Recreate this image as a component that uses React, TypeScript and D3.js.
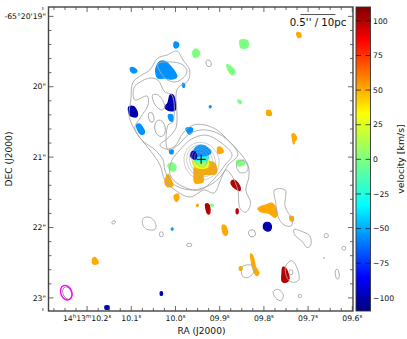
import React, { useEffect, useRef } from 'react';
import * as d3 from 'd3';

type Pt = [number, number];
type Blob = { v: number; pts: Pt[] };

// right ascension in seconds past 14h13m, declination in arcsec past -65d20'
const raTicks = [10.2, 10.1, 10.0, 9.9, 9.8, 9.7, 9.6];
const raLabels = ['14h13m10.2s', '10.1s', '10.0s', '09.9s', '09.8s', '09.7s', '09.6s'];
const decTicks = [19, 20, 21, 22, 23];
const decLabels = ["-65°20'19\"", '20"', '21"', '22"', '23"'];
const velTicks = [100, 75, 50, 25, 0, -25, -50, -75, -100];

const BLUE = -55, DARK = -100, GREEN = 0, ORANGE = 51, RED = 100;

const blobs: Blob[] = [
  { v: BLUE, pts: [[10.035, 19.642], [10.021, 19.649], [10.01, 19.72], [10.001, 19.791], [9.997, 19.862], [10.008, 19.89], [10.024, 19.876], [10.04, 19.876], [10.044, 19.819], [10.044, 19.734]] },
  { v: BLUE, pts: [[10.002, 19.365], [9.994, 19.379], [9.993, 19.421], [9.999, 19.45], [10.003, 19.436]] },
  { v: BLUE, pts: [[10.102, 19.734], [10.096, 19.727], [10.087, 19.777], [10.094, 19.805], [10.101, 19.777]] },
  { v: BLUE, pts: [[9.984, 19.954], [9.98, 19.954], [9.98, 20.004], [9.983, 20.004]] },
  { v: BLUE, pts: [[9.923, 20.274], [9.92, 20.274], [9.92, 20.295], [9.923, 20.295]] },
  { v: DARK, pts: [[10.012, 20.117], [10.006, 20.117], [10.0, 20.231], [10.001, 20.331], [10.017, 20.331], [10.024, 20.288], [10.017, 20.231]] },
  { v: DARK, pts: [[10.105, 20.284], [10.094, 20.284], [10.086, 20.377], [10.088, 20.426], [10.101, 20.416], [10.105, 20.377]] },
  { v: BLUE, pts: [[10.016, 20.402], [10.007, 20.402], [10.006, 20.483], [10.012, 20.483]] },
  { v: BLUE, pts: [[10.088, 20.544], [10.082, 20.529], [10.07, 20.639], [10.074, 20.676], [10.082, 20.653]] },
  { v: BLUE, pts: [[9.976, 20.59], [9.962, 20.59], [9.963, 20.647], [9.969, 20.676], [9.973, 20.647]] },
  { v: BLUE, pts: [[10.013, 20.899], [10.006, 20.899], [10.006, 20.949], [10.012, 20.949]] },
  { v: GREEN, pts: [[9.954, 19.464], [9.946, 19.507], [9.947, 19.556], [9.955, 19.585], [9.961, 19.542], [9.96, 19.492]] },
  { v: GREEN, pts: [[9.854, 19.343], [9.838, 19.343], [9.835, 19.393], [9.838, 19.446], [9.852, 19.446], [9.854, 19.407]] },
  { v: GREEN, pts: [[9.884, 19.691], [9.877, 19.701], [9.865, 19.786], [9.869, 19.829], [9.877, 19.801]] },
  { v: GREEN, pts: [[9.859, 20.188], [9.852, 20.203], [9.851, 20.231], [9.856, 20.231]] },
  { v: ORANGE, pts: [[9.726, 19.237], [9.718, 19.237], [9.716, 19.286], [9.722, 19.301]] },
  { v: ORANGE, pts: [[9.793, 20.338], [9.786, 20.338], [9.783, 20.402], [9.793, 20.402]] },
  { v: ORANGE, pts: [[9.736, 20.671], [9.73, 20.678], [9.726, 20.742], [9.73, 20.771], [9.732, 20.814], [9.735, 20.757]] },
  { v: ORANGE, pts: [[9.904, 20.863], [9.897, 20.863], [9.892, 20.927], [9.902, 20.949], [9.904, 20.941]] },
  { v: GREEN, pts: [[9.862, 21.055], [9.847, 21.048], [9.843, 21.083], [9.85, 21.119], [9.859, 21.119]] },
  { v: GREEN, pts: [[10.017, 21.112], [10.008, 21.083], [9.999, 21.126], [10.002, 21.197], [10.012, 21.183]] },
  { v: ORANGE, pts: [[10.024, 21.353], [10.017, 21.247], [10.01, 21.325], [10.006, 21.41], [10.019, 21.417]] },
  { v: ORANGE, pts: [[10.003, 21.545], [9.994, 21.524], [9.993, 21.595], [9.999, 21.63], [10.002, 21.595]] },
  { v: ORANGE, pts: [[9.952, 21.673], [9.949, 21.673], [9.949, 21.694], [9.952, 21.694]] },
  { v: RED, pts: [[9.873, 21.339], [9.865, 21.332], [9.854, 21.424], [9.854, 21.474], [9.863, 21.453], [9.874, 21.382]] },
  { v: RED, pts: [[9.932, 21.673], [9.926, 21.666], [9.922, 21.737], [9.924, 21.808], [9.928, 21.794], [9.931, 21.737]] },
  { v: RED, pts: [[9.862, 21.737], [9.859, 21.737], [9.859, 21.801], [9.862, 21.801]] },
  { v: ORANGE, pts: [[9.813, 21.727], [9.796, 21.68], [9.781, 21.656], [9.773, 21.727], [9.77, 21.798], [9.775, 21.855], [9.788, 21.798], [9.807, 21.775]] },
  { v: ORANGE, pts: [[9.741, 21.843], [9.734, 21.843], [9.734, 21.907], [9.74, 21.9]] },
  { v: DARK, pts: [[9.799, 21.943], [9.788, 21.929], [9.783, 21.978], [9.785, 22.035], [9.794, 22.049], [9.801, 22.007]] },
  { v: ORANGE, pts: [[9.894, 21.971], [9.888, 21.971], [9.882, 22.078], [9.886, 22.113], [9.891, 22.092], [9.894, 22.035]] },
  { v: ORANGE, pts: [[9.83, 22.376], [9.825, 22.404], [9.819, 22.556], [9.811, 22.65], [9.816, 22.684], [9.824, 22.603], [9.829, 22.461]] },
  { v: ORANGE, pts: [[9.855, 22.561], [9.85, 22.561], [9.85, 22.603], [9.855, 22.603]] },
  { v: RED, pts: [[9.757, 22.565], [9.751, 22.579], [9.743, 22.721], [9.747, 22.77], [9.758, 22.77], [9.759, 22.65]] },
  { v: ORANGE, pts: [[10.188, 22.461], [10.184, 22.423], [10.178, 22.452], [10.175, 22.508], [10.186, 22.518]] },
  { v: DARK, pts: [[10.159, 23.115], [10.151, 23.115], [10.151, 23.157], [10.159, 23.157]] },
  { v: DARK, pts: [[10.034, 22.916], [10.03, 22.916], [10.03, 22.958], [10.034, 22.958]] },
  { v: BLUE, pts: [[10.009, 22.009], [10.006, 22.009], [10.006, 22.032], [10.009, 22.032]] },
  { v: GREEN, pts: [[9.92, 21.673], [9.915, 21.673], [9.915, 21.694], [9.92, 21.694]] },
  // nucleus, painted back to front
  { v: ORANGE, pts: [[9.956, 21.136], [9.926, 21.065], [9.911, 21.088], [9.908, 21.23], [9.926, 21.244], [9.937, 21.254], [9.938, 21.349], [9.956, 21.363], [9.958, 21.254]] },
  { v: 30, pts: [[9.96, 21.041], [9.945, 20.998], [9.926, 21.041], [9.926, 21.14], [9.945, 21.155], [9.958, 21.126]] },
  { v: 8, pts: [[9.958, 21.027], [9.945, 20.97], [9.929, 21.012], [9.929, 21.098], [9.945, 21.119], [9.956, 21.083]] },
  { v: -25, pts: [[9.956, 20.984], [9.942, 20.927], [9.926, 20.97], [9.928, 21.041], [9.942, 21.055], [9.954, 21.041]] },
  { v: BLUE, pts: [[9.956, 20.875], [9.941, 20.828], [9.926, 20.875], [9.92, 20.94], [9.931, 20.977], [9.945, 20.984], [9.956, 20.984]] },
  { v: DARK, pts: [[9.963, 20.923], [9.956, 20.923], [9.952, 20.994], [9.956, 21.031], [9.965, 20.994]] },
];

const contours: Pt[][] = [
  [[9.997, 19.492], [9.983, 19.62], [9.968, 19.762], [9.972, 19.919], [9.994, 20.011], [9.999, 20.132], [9.997, 20.331], [9.999, 20.586], [10.017, 20.728], [10.035, 20.828], [10.021, 20.885], [10.001, 20.842], [9.983, 20.657], [9.96, 20.544], [9.933, 20.544], [9.906, 20.615], [9.879, 20.771], [9.854, 20.941], [9.836, 21.112], [9.834, 21.282], [9.841, 21.467], [9.83, 21.656], [9.841, 21.784], [9.854, 21.727], [9.859, 21.467], [9.872, 21.268], [9.886, 21.183], [9.898, 21.325], [9.913, 21.51], [9.935, 21.467], [9.967, 21.566], [10.001, 21.467], [10.024, 21.325], [10.035, 21.112], [10.058, 20.899], [10.08, 20.728], [10.098, 20.544], [10.105, 20.402], [10.101, 20.188], [10.096, 19.933], [10.076, 19.833], [10.058, 19.762], [10.04, 19.592], [10.019, 19.549]],
  [[10.04, 19.677], [10.008, 19.649], [9.983, 19.691], [9.974, 19.791], [9.983, 19.876], [10.001, 19.933], [10.024, 19.876]],
  [[10.04, 19.904], [10.058, 19.876], [10.08, 19.933], [10.094, 20.018], [10.092, 20.188], [10.064, 20.132], [10.062, 20.259], [10.08, 20.444], [10.092, 20.586], [10.076, 20.757], [10.046, 20.899], [10.028, 21.041], [10.024, 21.183], [10.008, 21.368], [9.967, 21.467], [9.922, 21.396], [9.895, 21.254], [9.881, 21.112], [9.859, 20.97], [9.877, 20.785], [9.911, 20.643], [9.945, 20.615], [9.972, 20.685], [9.994, 20.828], [10.017, 20.899], [10.017, 20.544], [10.006, 20.501], [10.008, 20.117], [10.024, 20.075]],
  [[9.99, 20.899], [9.967, 20.757], [9.933, 20.686], [9.899, 20.785], [9.872, 20.97], [9.888, 21.112], [9.911, 21.296], [9.945, 21.467], [9.99, 21.396], [10.012, 21.254], [10.008, 21.041]],
  [[10.052, 20.117], [10.039, 20.117], [10.024, 20.284], [10.031, 20.331], [10.046, 20.259]],
  [[9.861, 21.088], [9.847, 21.041], [9.836, 21.136], [9.839, 21.207], [9.854, 21.221], [9.861, 21.159]],
  [[10.073, 21.869], [10.058, 21.855], [10.045, 21.94], [10.046, 22.025], [10.065, 22.025], [10.074, 21.964]],
  [[9.732, 22.025], [9.717, 22.049], [9.696, 22.12], [9.694, 22.248], [9.702, 22.286], [9.713, 22.201], [9.73, 22.106]],
  [[9.779, 22.911], [9.768, 22.877], [9.756, 22.958], [9.761, 23.039], [9.773, 23.005]],
  [[9.751, 22.556], [9.738, 22.471], [9.728, 22.532], [9.721, 22.745], [9.736, 22.778], [9.747, 22.721]],
  [[9.849, 22.556], [9.83, 22.532], [9.821, 22.603], [9.834, 22.707], [9.847, 22.699], [9.851, 22.627]],
  [[9.776, 21.467], [9.752, 21.467], [9.752, 21.704], [9.736, 21.893], [9.738, 21.978], [9.754, 21.964], [9.768, 21.846], [9.773, 21.656]],
];

// small closed levels: ra, dec, semi-axes in arcsec, tilt in degrees
const ovals: [number, number, number, number, number][] = [
  [9.925, 19.667, 0.036, 0.05, -20],
  [10.14, 21.926, 0.028, 0.021, -40],
  [10.032, 22.096, 0.028, 0.036, 0],
  [9.969, 22.248, 0.038, 0.024, 0],
  [9.827, 22.082, 0.047, 0.053, -20],
  [9.659, 22.116, 0.031, 0.031, 0],
  [9.619, 22.295, 0.028, 0.028, 0],
  [9.634, 22.664, 0.028, 0.071, -5],
  [9.664, 22.433, 0.007, 0.007, 0],
  [9.719, 22.973, 0.024, 0.024, 0],
  [9.739, 22.636, 0.028, 0.036, 0],
  [10.055, 20.434, 0.038, 0.071, -10],
  [10.035, 20.59, 0.075, 0.118, -10],
];

// rings on the nucleus, same layout as ovals
const rings: [number, number, number, number, number][] = [
  [9.941, 21.055, 0.245, 0.27, -25],
  [9.942, 21.055, 0.2, 0.235, -25],
  [9.942, 21.05, 0.16, 0.2, -25],
  [9.943, 21.041, 0.12, 0.16, -25],
  [9.943, 21.034, 0.08, 0.115, -25],
];

const jetStops = ['#00007f', '#0000ff', '#00ffff', '#7fff7f', '#ffff00', '#ff0000', '#7f0000'];
const jetAt = [0, 0.11, 0.35, 0.5, 0.65, 0.89, 1];

const W = 407, H = 339;

export default function App() {
  const svgRef = useRef<SVGSVGElement>(null);

  useEffect(() => {
    const svg = d3.select(svgRef.current);
    svg.selectAll('*').remove();

    const left = 48.5, right = 353, top = 7, bottom = 311;
    const x = d3.scaleLinear().domain([10.2873, 9.5984]).range([left, right]);
    const y = d3.scaleLinear().domain([18.867, 23.186]).range([top, bottom]);
    const perArcsec = y(1) - y(0);

    const vMin = -109.5, vMax = 110;
    const frac = d3.scaleLinear().domain([vMin, vMax]).range([0, 1]);
    const jet = d3.scaleLinear<string>().domain(jetAt).range(jetStops).interpolate(d3.interpolateRgb);
    const vy = d3.scaleLinear().domain([vMin, vMax]).range([bottom, top]);

    const shape = d3.line<Pt>().x(d => x(d[0])).y(d => y(d[1])).curve(d3.curveCatmullRomClosed.alpha(0.5));

    svg.attr('font-family', '"DejaVu Sans", sans-serif');

    // velocity patches, fattened a little to match the blocky map pixels
    svg.append('g').selectAll('path').data(blobs).join('path')
      .attr('d', d => shape(d.pts))
      .attr('fill', d => jet(frac(d.v)))
      .attr('stroke', d => jet(frac(d.v)))
      .attr('stroke-width', 1.3)
      .attr('stroke-linejoin', 'round');

    // continuum contours
    const gc = svg.append('g').attr('fill', 'none').attr('stroke', '#a8a8a8').attr('stroke-width', 0.9);
    gc.selectAll('path').data(contours).join('path').attr('d', d => shape(d));
    gc.selectAll('ellipse').data(ovals).join('ellipse')
      .attr('rx', d => d[2] * perArcsec)
      .attr('ry', d => d[3] * perArcsec)
      .attr('transform', d => `translate(${x(d[0])},${y(d[1])}) rotate(${d[4]})`);

    svg.append('g').attr('fill', 'none').attr('stroke', '#a8a8a8').attr('stroke-width', 0.6)
      .attr('opacity', 0.8)
      .selectAll('ellipse').data(rings).join('ellipse')
      .attr('rx', d => d[2] * perArcsec)
      .attr('ry', d => d[3] * perArcsec)
      .attr('transform', d => `translate(${x(d[0])},${y(d[1])}) rotate(${d[4]})`);

    // centre cross
    const cx = x(9.942), cy = y(21.031);
    svg.append('path').attr('d', `M${cx - 4.5},${cy}H${cx + 4.5}M${cx},${cy - 4.5}V${cy + 4.5}`)
      .attr('stroke', '#000').attr('stroke-width', 1).attr('fill', 'none');

    // beam
    svg.append('ellipse')
      .attr('rx', 0.06 * perArcsec).attr('ry', 0.09 * perArcsec)
      .attr('transform', `translate(${x(10.245)},${y(22.93)}) rotate(-22)`)
      .attr('fill', 'none').attr('stroke', '#888').attr('stroke-width', 0.9);
    svg.append('ellipse')
      .attr('rx', 0.078 * perArcsec).attr('ry', 0.107 * perArcsec)
      .attr('transform', `translate(${x(10.247)},${y(22.926)}) rotate(-22)`)
      .attr('fill', 'none').attr('stroke', '#ff00ff').attr('stroke-width', 1.4);

    // scale bar
    svg.append('line')
      .attr('x1', x(9.717)).attr('x2', x(9.638))
      .attr('y1', y(18.974)).attr('y2', y(18.974))
      .attr('stroke', '#222').attr('stroke-width', 0.8);
    svg.append('text').attr('x', 318).attr('y', 26)
      .attr('text-anchor', 'middle').attr('font-size', 10.2).attr('fill', '#111')
      .text("0.5'' / 10pc");

    // frame and ticks
    const frameColor = '#444';
    svg.append('rect')
      .attr('x', left).attr('y', top).attr('width', right - left).attr('height', bottom - top)
      .attr('fill', 'none').attr('stroke', frameColor).attr('stroke-width', 1.4);

    const tick = svg.append('g').attr('stroke', frameColor).attr('stroke-width', 0.8);
    d3.range(0, 29).map(i => 9.6 + i * 0.025).forEach(v => {
      const major = raTicks.some(t => Math.abs(t - v) < 1e-6);
      const len = major ? 5 : 3;
      tick.append('line').attr('x1', x(v)).attr('x2', x(v)).attr('y1', bottom).attr('y2', bottom - len);
      tick.append('line').attr('x1', x(v)).attr('x2', x(v)).attr('y1', top).attr('y2', top + len);
    });
    d3.range(0, 22).map(i => 19 + i * 0.2).filter(v => v < 23.186).forEach(v => {
      const major = decTicks.some(t => Math.abs(t - v) < 1e-6);
      const len = major ? 5 : 3;
      tick.append('line').attr('x1', left).attr('x2', left + len).attr('y1', y(v)).attr('y2', y(v));
      tick.append('line').attr('x1', right).attr('x2', right - len).attr('y1', y(v)).attr('y2', y(v));
    });

    // tick labels
    const tl = svg.append('g').attr('font-size', 7.7).attr('fill', '#111');
    decTicks.forEach((v, i) => {
      tl.append('text').attr('x', 46).attr('y', y(v) + 2.7).attr('text-anchor', 'end').text(decLabels[i]);
    });
    raTicks.forEach((v, i) => {
      const t = tl.append('text').attr('x', x(v)).attr('y', 320.5).attr('text-anchor', 'middle');
      // h, m and s are raised and small
      raLabels[i].split(/([hms])/).filter(Boolean).forEach(part => {
        const sup = /^[hms]$/.test(part);
        t.append('tspan')
          .attr('font-size', sup ? 5.4 : 7.7)
          .attr('baseline-shift', sup ? '3' : null)
          .text(part);
      });
    });

    svg.append('text').attr('x', 201.5).attr('y', 333.5).attr('text-anchor', 'middle')
      .attr('font-size', 9.1).attr('fill', '#111').text('RA (J2000)');
    svg.append('text').attr('transform', 'translate(11.5,159) rotate(-90)').attr('text-anchor', 'middle')
      .attr('font-size', 9.1).attr('fill', '#111').text('DEC (J2000)');

    // colour bar
    const grad = svg.append('defs').append('linearGradient')
      .attr('id', 'jet').attr('x1', 0).attr('x2', 0).attr('y1', 1).attr('y2', 0);
    jetAt.forEach((f, i) => {
      grad.append('stop').attr('offset', f).attr('stop-color', jetStops[i]);
    });
    const barL = 356, barR = 370.5;
    svg.append('rect')
      .attr('x', barL).attr('y', top).attr('width', barR - barL).attr('height', bottom - top)
      .attr('fill', 'url(#jet)').attr('stroke', '#333').attr('stroke-width', 0.9);
    const vt = svg.append('g');
    velTicks.forEach(v => {
      vt.append('path')
        .attr('d', `M${barL},${vy(v)}h5M${barR},${vy(v)}h-5`)
        .attr('stroke', '#111').attr('stroke-width', 0.7).attr('fill', 'none');
      vt.append('text').attr('x', 373).attr('y', vy(v) + 2.7)
        .attr('font-size', 7.7).attr('fill', '#111')
        .text(v < 0 ? `\u2212${-v}` : `${v}`);
    });
    svg.append('text').attr('transform', 'translate(403.5,159) rotate(-90)').attr('text-anchor', 'middle')
      .attr('font-size', 9.4).attr('fill', '#111').text('velocity [km/s]');
  }, []);

  return (
    <svg
      ref={svgRef}
      width={W}
      height={H}
      style={{ position: 'absolute', left: 0, top: 0, display: 'block', background: '#fff' }}
    />
  );
}
